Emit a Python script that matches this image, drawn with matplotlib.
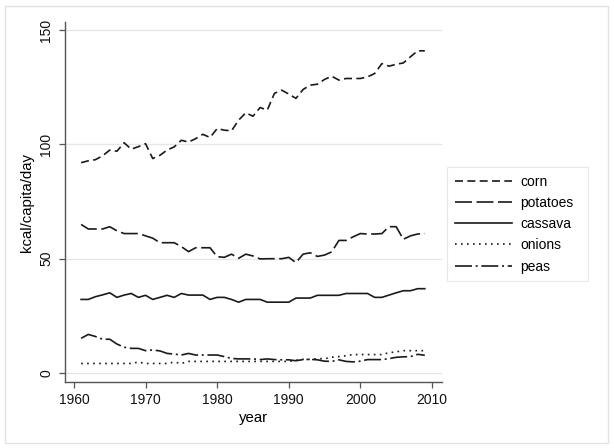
import numpy as np
import matplotlib
matplotlib.use("Agg")
import matplotlib.pyplot as plt
from matplotlib.patches import Rectangle

plt.rcParams['font.family'] = ['Liberation Sans', 'DejaVu Sans']

years = np.arange(1961, 2010)

corn = [92.0, 92.8, 93.3, 95.0, 97.5, 97.0, 100.7, 97.9, 99.0, 100.3,
        93.8, 95.2, 97.5, 98.9, 101.8, 101.0, 102.5, 104.4, 103.0, 106.9,
        106.2, 105.9, 110.6, 113.8, 112.3, 116.1, 115.0, 122.3, 123.7, 122.0,
        120.1, 124.0, 125.9, 126.3, 128.4, 129.8, 128.1, 128.8, 128.8, 128.8,
        129.5, 131.0, 135.3, 134.2, 135.0, 135.6, 138.3, 140.9, 140.9]

potatoes = [65.0, 63.0, 63.0, 63.0, 64.0, 62.2, 61.0, 61.0, 61.0, 60.0,
            59.0, 57.0, 57.0, 57.0, 55.3, 53.1, 54.8, 54.8, 54.8, 50.9,
            50.6, 52.0, 50.2, 52.0, 51.2, 49.9, 50.0, 50.0, 50.0, 50.6,
            48.3, 52.0, 52.6, 51.0, 51.6, 53.0, 58.0, 58.0, 59.6, 61.0,
            60.8, 60.8, 61.0, 64.0, 64.0, 58.5, 60.0, 60.8, 61.0]

cassava = [32.2, 32.2, 33.4, 34.2, 35.1, 33.1, 34.1, 34.8, 33.1, 34.0,
           32.2, 33.1, 34.0, 33.1, 34.8, 34.1, 34.1, 34.1, 32.2, 33.1,
           33.1, 32.2, 31.0, 32.2, 32.2, 32.2, 31.0, 31.0, 31.0, 31.0,
           32.8, 32.8, 32.8, 34.0, 34.0, 34.0, 34.0, 34.8, 34.8, 34.8,
           34.8, 33.1, 33.1, 34.1, 35.1, 36.0, 36.0, 36.9, 36.9]

onions = [4.2, 4.2, 4.2, 4.2, 4.2, 4.2, 4.2, 4.2, 4.8, 4.2,
          4.2, 4.2, 4.2, 4.8, 4.2, 5.1, 5.1, 5.1, 5.1, 5.1,
          5.1, 5.1, 5.1, 5.1, 5.1, 5.1, 5.1, 5.1, 5.1, 5.1,
          5.6, 6.0, 6.0, 6.3, 6.3, 6.9, 7.2, 7.6, 8.1, 8.1,
          8.1, 8.1, 8.1, 8.9, 9.3, 9.8, 9.8, 9.8, 9.8]

peas = [15.2, 16.9, 16.0, 14.8, 14.8, 12.7, 11.3, 10.8, 10.8, 9.8,
        10.1, 9.7, 8.6, 8.3, 7.9, 8.6, 7.9, 7.9, 7.9, 7.9,
        7.2, 6.4, 6.2, 6.2, 6.2, 5.9, 6.2, 5.9, 5.8, 5.8,
        5.4, 5.9, 6.0, 5.8, 5.2, 5.1, 5.8, 5.1, 4.9, 5.2,
        5.9, 5.9, 5.9, 6.3, 6.9, 7.1, 7.2, 8.2, 7.8]

# dash patterns in linewidth units, measured off the legend keys
series = [
    ("corn", corn, (0, (4.8, 2.6))),
    ("potatoes", potatoes, (0, (10.2, 2.7))),
    ("cassava", cassava, "-"),
    ("onions", onions, (0, (1.0, 2.6))),
    ("peas", peas, (0, (10.2, 2.2, 1.2, 2.2))),
]

fig = plt.figure(figsize=(6.14, 4.48), dpi=100)
fig.patches.append(Rectangle((5 / 614, 5 / 448), 603 / 614, 437 / 448,
                             transform=fig.transFigure, fill=False,
                             edgecolor="#e2e2e2", linewidth=1.0))

ax = fig.add_axes([65 / 614, 66 / 448, 377 / 614, 360 / 448])

for name, vals, ls in series:
    ax.plot(years, vals, color="#1a1a1a", linestyle=ls, linewidth=1.2, label=name)

ax.set_xlim(1958.75, 2011.4)
ax.set_ylim(-3.9, 153.5)
ax.set_xticks([1960, 1970, 1980, 1990, 2000, 2010])
ax.set_yticks([0, 50, 100, 150])
ax.grid(axis="y", color="#e6e6e6", linewidth=0.9)
ax.set_axisbelow(True)

for s in ["top", "right"]:
    ax.spines[s].set_visible(False)
for s in ["left", "bottom"]:
    ax.spines[s].set_color("#555555")
    ax.spines[s].set_linewidth(1.0)

ax.tick_params(axis="both", colors="#555555", labelcolor="#111111",
               labelsize=10, length=4.3, width=0.9)
ax.tick_params(axis="x", pad=3.6)
ax.tick_params(axis="y", pad=4.3)
plt.setp(ax.get_yticklabels(), rotation=90, ha="right", va="center",
         rotation_mode="default")

ax.set_xlabel("year", fontsize=10.8, labelpad=3)
ax.set_ylabel("kcal/capita/day", fontsize=10.8, labelpad=3.5)

leg = ax.legend(loc="upper left",
                bbox_to_anchor=(447 / 614, 1 - 280 / 448, 141 / 614, 113 / 448),
                bbox_transform=fig.transFigure, mode="expand",
                borderaxespad=0, fontsize=10,
                handlelength=4.1, handletextpad=0.6, labelspacing=0.52,
                borderpad=0.55, fancybox=False, frameon=True)
leg.get_frame().set_edgecolor("#e2e2e2")
leg.get_frame().set_linewidth(0.8)

fig.savefig("out.png", dpi=100)
